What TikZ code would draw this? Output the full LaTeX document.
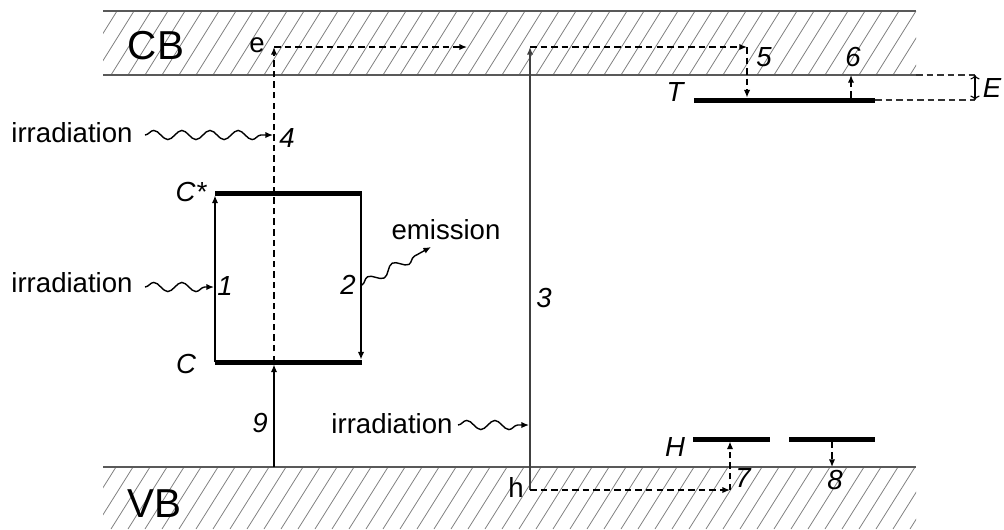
\documentclass[tikz,border=0pt]{standalone}
\usepackage{fontspec}
\setmainfont{Liberation Sans}
\usetikzlibrary{arrows.meta,decorations.pathmorphing}
\begin{document}
\begin{tikzpicture}[x=0.02cm,y=-0.02cm,
  band/.style={draw=black!65, line width=1.1pt},
  hatch/.style={draw=black!50, line width=0.45pt},
  level/.style={line width=2.85pt},
  arr/.style={line width=0.8pt, -{Latex[length=4.3pt,width=3.6pt]}},
  dasharr/.style={arr, dash pattern=on 3.7pt off 2.3pt},
  dline/.style={line width=0.6pt, dash pattern=on 3.7pt off 2.3pt, draw=black!80},
  wave/.style={line width=0.8pt, decorate, decoration={snake, segment length=16pt, amplitude=2.6pt, post length=3pt}, -{Latex[length=4.3pt,width=3.6pt]}},
  lbl/.style={inner sep=0pt, font=\fontsize{15.7}{18}\selectfont},
  num/.style={inner sep=0pt, font=\fontsize{15.7}{18}\selectfont\itshape},
  big/.style={inner sep=0pt, font=\fontsize{23}{26}\selectfont}]

\useasboundingbox (0,0) rectangle (1004,529);

% ---- bands with hatching
\begin{scope}
  \clip (103,11) rectangle (916,75);
  \foreach \i in {0,...,52} \draw[hatch] (60+\i*17,75) -- ++(40,-64);
\end{scope}
\begin{scope}
  \clip (103,467) rectangle (916,529);
  \foreach \i in {0,...,52} \draw[hatch] (60+\i*17,529) -- ++(39,-62);
\end{scope}
\draw[band] (103,11) -- (916,11);
\draw[band] (103,75) -- (916,75);
\draw[band] (103,467) -- (916,467);

\node[big] (cb) at (156,46) {CB};
\node[big] (vb) at (154,504) {VB};

% ---- coordinates
\coordinate (Cs1) at (215,193); \coordinate (Cs2) at (362,193);
\coordinate (C1) at (215,362);  \coordinate (C2) at (362,362);
\coordinate (T1) at (694,100);  \coordinate (T2) at (875,100);
\coordinate (H1) at (693,439);  \coordinate (H2) at (770,439);
\coordinate (H3) at (789,439);  \coordinate (H4) at (875,439);

\coordinate (a1t) at (215,193); \coordinate (a1b) at (215,362);
\coordinate (a2t) at (361,193); \coordinate (a2b) at (361,362);
\coordinate (c4) at (274,362);  \coordinate (e4) at (274,47);
\coordinate (eR) at (467,47);   \coordinate (v9) at (274,467);
\coordinate (h3) at (530,490);  \coordinate (t3) at (530,47);
\coordinate (t5) at (747,47);   \coordinate (T5) at (747,100);
\coordinate (T6) at (851,100);  \coordinate (B6) at (851,75);
\coordinate (Eb1) at (916,75);  \coordinate (Ee1) at (975,75);
\coordinate (Eb2) at (875,100); \coordinate (Ee2) at (975,100);
\coordinate (h7) at (730,490);  \coordinate (H7) at (730,439);
\coordinate (H8) at (832,439);  \coordinate (V8) at (832,467);

\coordinate (ir1s) at (145,287); \coordinate (ir1e) at (214,287);
\coordinate (ir4s) at (145,135); \coordinate (ir4e) at (273,135);
\coordinate (ir3s) at (458,425); \coordinate (ir3e) at (529,425);
\coordinate (ems) at (362,285);  \coordinate (eme) at (431,247);

% ---- levels
\draw[level] (Cs1) -- (Cs2);
\draw[level] (C1) -- (C2);
\draw[level] (T1) -- (T2);
\draw[level] (H1) -- (H2);
\draw[level] (H3) -- (H4);

% ---- transitions
\draw[arr, shorten >=1.4pt] (a1b) -- (a1t);
\draw[arr, shorten >=1.4pt] (a2t) -- (a2b);
\draw[dasharr] (c4) -- (e4);
\draw[dasharr] (e4) -- (eR);
\draw[arr, shorten >=1.4pt] (v9) -- (c4);
\draw[arr, draw=black!75] (h3) -- (t3);
\draw[dasharr] (t3) -- (t5);
\draw[dasharr, shorten >=1.4pt] (t5) -- (T5);
\draw[dasharr, shorten <=1.4pt] (T6) -- (B6);
\draw[dline] (Eb1) -- (Ee1);
\draw[dline] (Eb2) -- (Ee2);
\draw[line width=0.6pt, {To[length=2.5pt]}-{To[length=2.5pt]}] (Ee1) -- (Ee2);
\draw[dasharr] (h3) -- (h7);
\draw[dasharr, shorten >=1.4pt] (h7) -- (H7);
\draw[dasharr, shorten <=1.4pt] (H8) -- (V8);

% ---- waves
\draw[wave] (ir1s) -- (ir1e);
\draw[wave] (ir4s) -- (ir4e);
\draw[wave] (ir3s) -- (ir3e);
\draw[wave] (ems) -- (eme);

% ---- labels
\node[lbl] (le) at (257,45) {e};
\node[lbl] (lh) at (516,487) {h};
\node[lbl] (irr4) at (72,133) {irradiation};
\node[lbl] (irr1) at (72,283) {irradiation};
\node[lbl] (irr3) at (392,424) {irradiation};
\node[lbl] (emis) at (446,230) {emission};
\node[num] (n4) at (287,138) {4};
\node[num] (n1) at (225,286) {1};
\node[num] (n2) at (348,285) {2};
\node[num] (n3) at (544,298) {3};
\node[num] (n9) at (260,423) {9};
\node[num] (n5) at (764,57) {5};
\node[num] (n6) at (853,57) {6};
\node[num] (n7) at (743,478) {7};
\node[num] (n8) at (835,480) {8};
\node[num] (lCs) at (191,192) {C*};
\node[num] (lC) at (186,364) {C};
\node[num] (lT) at (675,92) {T};
\node[num] (lH) at (675,447) {H};
\node[num] (lE) at (992,88) {E};
\end{tikzpicture}
\end{document}
